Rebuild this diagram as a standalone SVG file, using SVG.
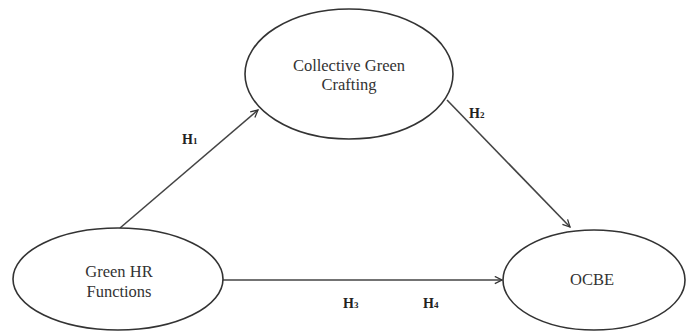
<svg xmlns="http://www.w3.org/2000/svg" width="686" height="332" viewBox="0 0 686 332">
<style>
.node{fill:#fff;stroke:#333;stroke-width:1.6}
.t{font-family:"Liberation Serif","Times New Roman",serif;font-size:16.5px;fill:#333;text-anchor:middle}
.lbl{font-family:"Liberation Serif","Times New Roman",serif;font-size:14px;fill:#222;font-weight:bold}
.sub{font-size:9px}
.edge{stroke:#444;stroke-width:1.6;fill:none;marker-end:url(#ah)}
</style>
<defs>
<marker id="ah" viewBox="0 0 10 10" refX="9" refY="5" markerWidth="9" markerHeight="9" markerUnits="userSpaceOnUse" orient="auto">
<path d="M1,1 L9,5 L1,9" fill="none" stroke="#333" stroke-width="1.4"/>
</marker>
</defs>
<rect width="686" height="332" fill="#fff"/>
<g id="connectors">
<line class="edge" x1="120" y1="228" x2="258" y2="110"/>
<line class="edge" x1="447" y1="100" x2="570" y2="227"/>
<line class="edge" x1="223" y1="280" x2="502" y2="280"/>
</g>
<g id="labels">
<text class="lbl" x="182" y="144">H<tspan class="sub">1</tspan></text>
<text class="lbl" x="469" y="118">H<tspan class="sub">2</tspan></text>
<text class="lbl" x="343" y="308">H<tspan class="sub">3</tspan></text>
<text class="lbl" x="423" y="308">H<tspan class="sub">4</tspan></text>
</g>
<g id="collective-green-crafting">
<ellipse class="node" cx="349" cy="74" rx="104" ry="65"/>
<text class="t" x="349" y="71">Collective Green</text>
<text class="t" x="349" y="90">Crafting</text>
</g>
<g id="green-hr-functions">
<ellipse class="node" cx="118" cy="279" rx="105" ry="51"/>
<text class="t" x="119" y="277">Green HR</text>
<text class="t" x="119" y="297">Functions</text>
</g>
<g id="ocbe">
<ellipse class="node" cx="594" cy="280" rx="91" ry="50"/>
<text class="t" x="592" y="285">OCBE</text>
</g>
</svg>
